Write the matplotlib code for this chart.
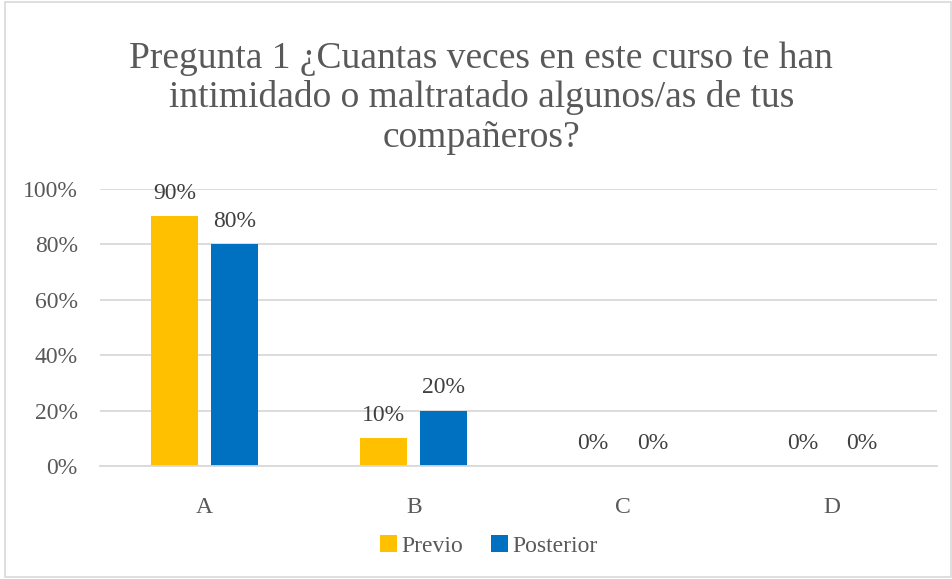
import numpy as np
import matplotlib.pyplot as plt
from matplotlib.patches import Rectangle

# Daten
categorias = ["A", "B", "C", "D"]
previo = [0.90, 0.10, 0.0, 0.0]
posterior = [0.80, 0.20, 0.0, 0.0]
titulo = "Pregunta 1 ¿Cuantas veces en este curso te han\nintimidado o maltratado algunos/as de tus\ncompañeros?"

plt.rcParams["font.family"] = ["Liberation Serif", "DejaVu Serif"]
gris = "#595959"

fig = plt.figure(figsize=(9.53, 5.79), dpi=100)
ax = fig.add_axes([0.105, 0.195, 0.878, 0.479])

x = np.arange(len(categorias))
ancho = 0.225
desp = 0.143
b1 = ax.bar(x - desp, previo, ancho, color="#FFC000", label="Previo")
b2 = ax.bar(x + desp, posterior, ancho, color="#0070C0", label="Posterior")

for barras in (b1, b2):
    for b in barras:
        h = b.get_height()
        ax.annotate(f"{h:.0%}", (b.get_x() + b.get_width() / 2, h),
                    xytext=(0, 9), textcoords="offset points",
                    ha="center", va="bottom", fontsize=17, color="#404040")

ax.set_xlim(-0.5, 3.5)
ax.set_ylim(0, 1)
ax.set_yticks(np.arange(0, 1.01, 0.2))
ax.set_yticklabels([f"{v:.0%}" for v in np.arange(0, 1.01, 0.2)])
ax.set_xticks(x)
ax.set_xticklabels(categorias)
ax.tick_params(axis="y", length=0, pad=16, labelsize=17, labelcolor=gris)
ax.tick_params(axis="x", length=0, pad=22, labelsize=17, labelcolor=gris)
ax.grid(axis="y", color="#D9D9D9", linewidth=1.3)
ax.set_axisbelow(True)
for s in ["top", "right", "left"]:
    ax.spines[s].set_visible(False)
ax.spines["bottom"].set_color("#D9D9D9")
ax.spines["bottom"].set_linewidth(1.3)

fig.text(0.505, 0.929, titulo, ha="center", va="top", fontsize=27,
         color=gris, linespacing=1.18)

fig.legend(loc="center", bbox_to_anchor=(0.513, 0.057), ncol=2, frameon=False,
           fontsize=17, labelcolor=gris, handlelength=0.7, handleheight=0.7,
           handletextpad=0.2, columnspacing=1.2)

fig.patches.append(Rectangle((0.005, 0.003), 0.993, 0.994, transform=fig.transFigure,
                             fill=False, edgecolor="#D9D9D9", linewidth=1.2))

fig.savefig("out.png", dpi=100)
